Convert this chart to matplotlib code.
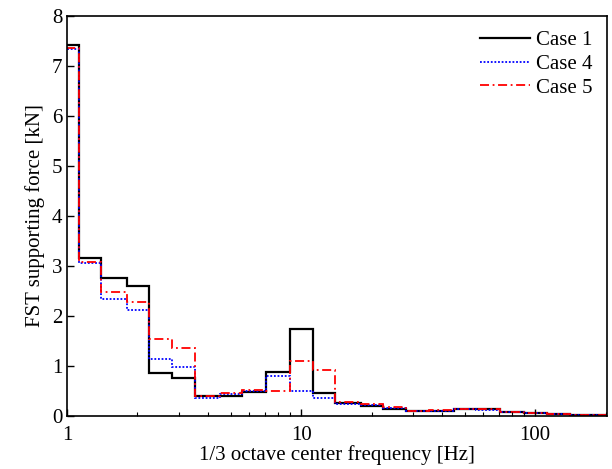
import numpy as np
import matplotlib
matplotlib.use('Agg')
import matplotlib.pyplot as plt
from matplotlib.ticker import FixedLocator, NullFormatter, LogLocator

plt.rcParams['font.family'] = 'Liberation Serif'

# 1/3 octave band center frequencies [Hz]
centers = [1, 1.25, 1.6, 2, 2.5, 3.15, 4, 5, 6.3, 8, 10, 12.5, 16, 20,
           25, 31.5, 40, 50, 63, 80, 100, 125, 160, 200]

# FST supporting force [kN] per band
case1 = [7.41, 3.15, 2.76, 2.59, 0.85, 0.75, 0.40, 0.41, 0.47, 0.87, 1.74, 0.45,
         0.26, 0.20, 0.15, 0.11, 0.11, 0.14, 0.14, 0.08, 0.07, 0.04, 0.03, 0.03]
case4 = [7.33, 3.05, 2.34, 2.12, 1.14, 0.97, 0.37, 0.43, 0.49, 0.79, 0.49, 0.37,
         0.25, 0.22, 0.17, 0.11, 0.11, 0.14, 0.13, 0.08, 0.07, 0.04, 0.03, 0.03]
case5 = [7.35, 3.07, 2.48, 2.27, 1.53, 1.35, 0.40, 0.45, 0.51, 0.49, 1.09, 0.92,
         0.29, 0.25, 0.19, 0.11, 0.12, 0.15, 0.14, 0.09, 0.07, 0.05, 0.03, 0.03]

# band edges at 2^(+-1/6) around each nominal center
c = np.array(centers, dtype=float)
edges = np.concatenate([[c[0] / 2 ** (1 / 6)], c * 2 ** (1 / 6)])

fig = plt.figure(figsize=(6.12, 4.69), dpi=100)
ax = fig.add_axes([0.1095, 0.113, 0.8825, 0.853])

ax.stairs(case1, edges, color='black', lw=1.6, label='Case 1')
ax.stairs(case4, edges, color='blue', lw=1.3, linestyle=(0, (1, 1)), label='Case 4')
ax.stairs(case5, edges, color='red', lw=1.3, linestyle=(0, (5, 2, 1, 2)), label='Case 5')

ax.set_xscale('log')
ax.set_xlim(1, 203)
ax.set_ylim(0, 8)
ax.xaxis.set_major_locator(FixedLocator([1, 10, 100]))
ax.set_xticklabels(['1', '10', '100'])
ax.xaxis.set_minor_locator(LogLocator(base=10, subs=np.arange(2, 10)))
ax.xaxis.set_minor_formatter(NullFormatter())
ax.set_yticks(range(0, 9))

ax.tick_params(axis='both', which='major', direction='in', length=5, width=1,
               labelsize=15, top=False, right=False)
ax.tick_params(axis='x', which='major', pad=7)
ax.tick_params(axis='x', which='minor', direction='in', length=3, width=0.8, top=False)
for s in ax.spines.values():
    s.set_linewidth(1.2)

ax.set_xlabel('1/3 octave center frequency [Hz]', fontsize=15, labelpad=0)
ax.set_ylabel('FST supporting force [kN]', fontsize=15, labelpad=5)

ax.legend(loc='upper right', frameon=False, fontsize=15, handlelength=2.4,
          handletextpad=0.3, labelspacing=0.2, borderaxespad=0.3)

plt.savefig('out.png', dpi=100)
